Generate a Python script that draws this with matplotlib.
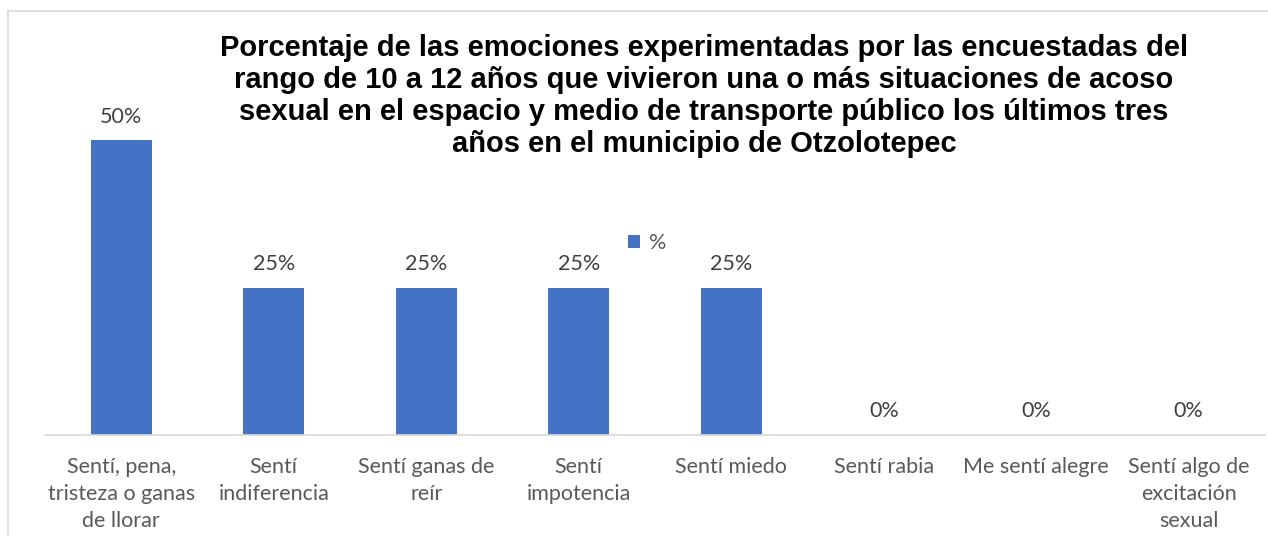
import matplotlib.pyplot as plt
from matplotlib.patches import Rectangle

categorias = ["Sentí, pena,\ntristeza o ganas\nde llorar", "Sentí\nindiferencia",
              "Sentí ganas de\nreír", "Sentí\nimpotencia", "Sentí miedo",
              "Sentí rabia", "Me sentí alegre", "Sentí algo de\nexcitación\nsexual"]
valores = [50, 25, 25, 25, 25, 0, 0, 0]
serie = "%"
titulo = ("Porcentaje de las emociones experimentadas por las encuestadas del\n"
          "rango de 10 a 12 años que vivieron una o más situaciones de acoso\n"
          "sexual en el espacio y medio de transporte público los últimos tres\n"
          "años en el municipio de Otzolotepec")

W, H = 1268, 536
fig = plt.figure(figsize=(W / 100, H / 100), dpi=100)

# borde del grafico
fig.patches.append(Rectangle((8 / W, -0.1), 1.2, (536 - 11) / H + 0.1,
                             transform=fig.transFigure, fill=False,
                             edgecolor="#d9d9d9", linewidth=1.2))

ax = fig.add_axes([45 / W, (H - 435) / H, 1220 / W, (435 - 11) / H])
x = range(len(categorias))
barras = ax.bar(x, valores, width=0.4, color="#4472c4", label=serie)

for i, v in enumerate(valores):
    ax.text(i, v + 4.0, f"{v}%", ha="center", va="center",
            fontsize=15.5, color="#404040", family="Lato")

ax.set_xlim(-0.5, len(categorias) - 0.5)
ax.set_ylim(0, 71.9)
ax.set_yticks([])
ax.set_xticks(list(x))
ax.set_xticklabels(categorias, fontsize=15.5, color="#595959", family="Lato",
                   linespacing=1.42)
ax.tick_params(axis="x", length=0, pad=16)
for s in ["top", "right", "left"]:
    ax.spines[s].set_visible(False)
ax.spines["bottom"].set_color("#d9d9d9")
ax.spines["bottom"].set_linewidth(1.2)

fig.text(704 / W, (H - 96) / H, titulo, ha="center", va="center",
         fontsize=21, fontweight="bold", family="Liberation Sans",
         linespacing=1.19)

ax.legend(loc="center", bbox_to_anchor=(647 / W, (H - 243) / H),
          bbox_transform=fig.transFigure, frameon=False,
          prop={"family": "Lato", "size": 15.5}, handlelength=0.55,
          handleheight=0.55, handletextpad=0.4, labelcolor="#595959")

fig.savefig("out.png", dpi=100)
